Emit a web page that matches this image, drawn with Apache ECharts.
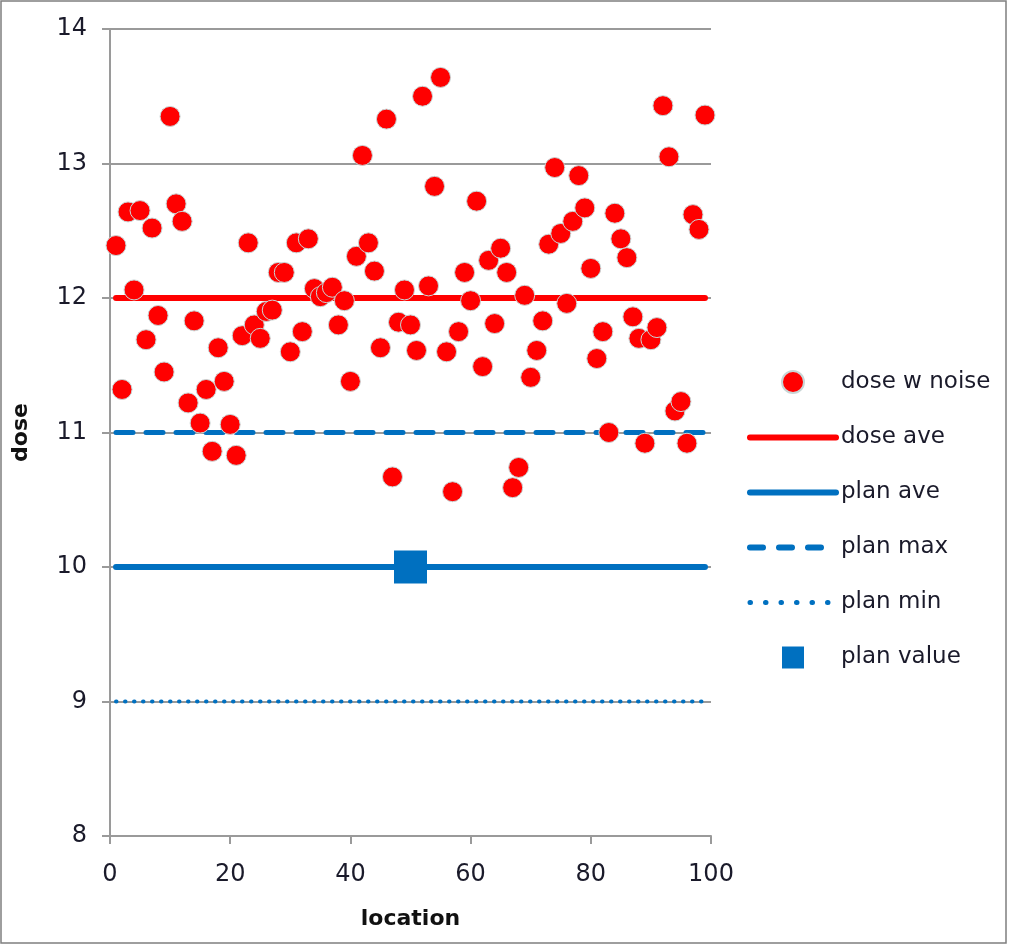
<!DOCTYPE html>
<html>
<head>
<meta charset="utf-8">
<script src="https://cdn.jsdelivr.net/npm/echarts@6/dist/echarts.min.js"></script>
<style>
html,body{margin:0;padding:0;background:#fff;}
#chart{width:1013px;height:948px;}
</style>
</head>
<body>
<div id="chart"></div>
<script>
// location 1..99
const doseWithNoise = [
  12.39, 11.32, 12.64, 12.06, 12.65, 11.69, 12.52, 11.87, 11.45, 13.35,
  12.70, 12.57, 11.22, 11.83, 11.07, 11.32, 10.86, 11.63, 11.38, 11.06,
  10.83, 11.72, 12.41, 11.80, 11.70, 11.90, 11.91, 12.19, 12.19, 11.60,
  12.41, 11.75, 12.44, 12.07, 12.01, 12.04, 12.08, 11.80, 11.98, 11.38,
  12.31, 13.06, 12.41, 12.20, 11.63, 13.33, 10.67, 11.82, 12.06, 11.80,
  11.61, 13.50, 12.09, 12.83, 13.64, 11.60, 10.56, 11.75, 12.19, 11.98,
  12.72, 11.49, 12.28, 11.81, 12.37, 12.19, 10.59, 10.74, 12.02, 11.41,
  11.61, 11.83, 12.40, 12.97, 12.48, 11.96, 12.57, 12.91, 12.67, 12.22,
  11.55, 11.75, 11.00, 12.63, 12.44, 12.30, 11.86, 11.70, 10.92, 11.69,
  11.78, 13.43, 13.05, 11.16, 11.23, 10.92, 12.62, 12.51, 13.36
];
const lineLocations = [1, 99];
const doseAve = [12, 12];
const planAve = [10, 10];
const planMax = [11, 11];
const planMin = [9, 9];
const planValueLocation = [50];
const planValue = [10];
const seriesNames = ['dose w noise', 'dose ave', 'plan ave', 'plan max', 'plan min', 'plan value'];
const xTicks = [0, 20, 40, 60, 80, 100];
const yTicks = [8, 9, 10, 11, 12, 13, 14];

const RED = '#FF0000';
const BLUE = '#0070C0';
const FONT = 'DejaVu Sans';
const TXT = '#1a1a2a';

const pair = (xs, ys) => xs.map((x, i) => [x, ys[i]]);
const scatterData = doseWithNoise.map((v, i) => [i + 1, v]);

const chart = echarts.init(document.getElementById('chart'));
chart.setOption({
  animation: false,
  backgroundColor: '#fff',
  textStyle: { fontFamily: FONT },
  grid: { left: 110, right: 302, top: 29, bottom: 112, containLabel: false },
  xAxis: {
    type: 'value', min: xTicks[0], max: xTicks[xTicks.length - 1], interval: 20,
    name: 'location', nameLocation: 'middle', nameGap: 72,
    nameTextStyle: { fontFamily: FONT, fontSize: 22, fontWeight: 'bold', color: '#111' },
    axisLine: { lineStyle: { color: '#9a9a9a', width: 2 } },
    axisTick: { show: true, inside: false, length: 8, lineStyle: { color: '#9a9a9a', width: 2 } },
    axisLabel: { fontFamily: FONT, fontSize: 24, color: TXT, margin: 27 },
    splitLine: { show: false }
  },
  yAxis: {
    type: 'value', min: yTicks[0], max: yTicks[yTicks.length - 1], interval: 1,
    name: 'dose', nameLocation: 'middle', nameGap: 78, nameRotate: 90,
    nameTextStyle: { fontFamily: FONT, fontSize: 22, fontWeight: 'bold', color: '#111' },
    axisLine: { show: true, lineStyle: { color: '#9a9a9a', width: 2 } },
    axisTick: { show: true, inside: false, length: 8, lineStyle: { color: '#9a9a9a', width: 2 } },
    axisLabel: { fontFamily: FONT, fontSize: 24, color: TXT, margin: 23 },
    splitLine: { show: true, lineStyle: { color: '#9a9a9a', width: 2 } }
  },
  legend: {
    orient: 'vertical', left: 742, top: 365,
    itemWidth: 86, itemHeight: 22, itemGap: 32,
    textStyle: { fontFamily: FONT, fontSize: 23, color: TXT, padding: [0, 0, 0, 0] },
    data: [
      { name: seriesNames[0] },
      { name: seriesNames[1], itemStyle: { opacity: 0 }, lineStyle: { width: 6, cap: 'round' } },
      { name: seriesNames[2], itemStyle: { opacity: 0 }, lineStyle: { width: 6, cap: 'round' } },
      { name: seriesNames[3], itemStyle: { opacity: 0 }, lineStyle: { width: 6, type: [13, 16], cap: 'round' } },
      { name: seriesNames[4], itemStyle: { opacity: 0 }, lineStyle: { width: 5, type: [0.5, 15], cap: 'round' } },
      { name: seriesNames[5], icon: 'path://M0,0L1,0L1,1L0,1Z' }
    ]
  },
  series: [
    {
      name: seriesNames[1], type: 'line', data: pair(lineLocations, doseAve),
      symbol: 'none', lineStyle: { color: RED, width: 6, cap: 'round' }, itemStyle: { color: RED }, z: 2
    },
    {
      name: seriesNames[2], type: 'line', data: pair(lineLocations, planAve),
      symbol: 'none', lineStyle: { color: BLUE, width: 6, cap: 'round' }, itemStyle: { color: BLUE }, z: 2
    },
    {
      name: seriesNames[3], type: 'line', data: pair(lineLocations, planMax),
      symbol: 'none', lineStyle: { color: BLUE, width: 5, type: [17, 13], cap: 'round' }, itemStyle: { color: BLUE }, z: 2
    },
    {
      name: seriesNames[4], type: 'line', data: pair(lineLocations, planMin),
      symbol: 'none', lineStyle: { color: BLUE, width: 4, type: [0.5, 8.5], cap: 'round' }, itemStyle: { color: BLUE }, z: 2
    },
    {
      name: seriesNames[0], type: 'scatter', data: scatterData,
      symbol: 'circle', symbolSize: 20,
      itemStyle: { color: RED, borderColor: '#c9d6d6', borderWidth: 1, opacity: 1 }, z: 3
    },
    {
      name: seriesNames[5], type: 'scatter', data: pair(planValueLocation, planValue),
      symbol: 'rect', symbolSize: 33,
      itemStyle: { color: BLUE, opacity: 1 }, z: 4
    }
  ],
  graphic: [
    { type: 'rect', shape: { x: 1, y: 1, width: 1005, height: 942 },
      style: { fill: 'none', stroke: '#7f7f7f', lineWidth: 1.5 }, silent: true }
  ]
});
</script>
</body>
</html>
